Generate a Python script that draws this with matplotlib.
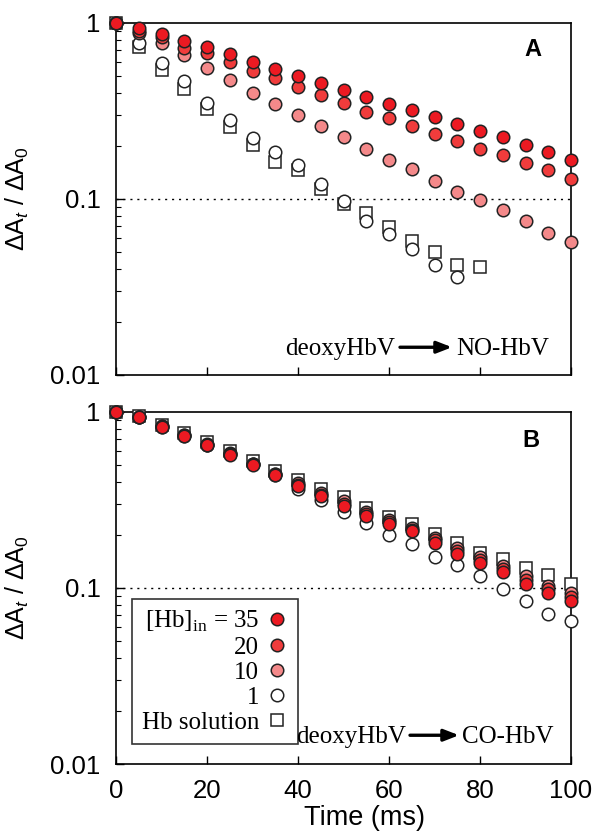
import numpy as np
import matplotlib
matplotlib.use("Agg")
import matplotlib.pyplot as plt
from matplotlib.ticker import LogLocator, NullFormatter

plt.rcParams['font.family'] = ['Liberation Sans', 'DejaVu Sans']
plt.rcParams['mathtext.fontset'] = 'custom'
plt.rcParams['mathtext.rm'] = 'Liberation Sans'
plt.rcParams['mathtext.it'] = 'Liberation Sans:italic'

# ---------------------------
# Daten
# ---------------------------
t_ms = np.arange(0, 101, 5)
t_1A = t_ms[:16]      # 0..75
t_solA = t_ms[:17]    # 0..80

# Panel A: deoxyHbV -> NO-HbV
a35 = [1, 0.93, 0.863, 0.79, 0.725, 0.66, 0.596, 0.547, 0.499, 0.454, 0.416,
       0.378, 0.345, 0.318, 0.29, 0.266, 0.242, 0.224, 0.201, 0.184, 0.166]
a20 = [1, 0.90, 0.833, 0.72, 0.67, 0.60, 0.535, 0.484, 0.43, 0.388, 0.35,
       0.313, 0.286, 0.26, 0.234, 0.212, 0.192, 0.177, 0.16, 0.145, 0.13]
a10 = [1, 0.87, 0.764, 0.652, 0.556, 0.473, 0.40, 0.347, 0.30, 0.258, 0.224,
       0.192, 0.167, 0.147, 0.127, 0.110, 0.098, 0.087, 0.075, 0.064, 0.057]
a1 = [1, 0.77, 0.59, 0.464, 0.352, 0.281, 0.221, 0.184, 0.155, 0.122, 0.097,
      0.075, 0.063, 0.052, 0.042, 0.036]
a_sol = [1, 0.728, 0.542, 0.422, 0.325, 0.256, 0.201, 0.162, 0.145, 0.114,
         0.094, 0.083, 0.069, 0.058, 0.050, 0.042, 0.041]

# Panel B: deoxyHbV -> CO-HbV
b35 = [1, 0.93, 0.82, 0.73, 0.645, 0.57, 0.50, 0.44, 0.377, 0.331, 0.29,
       0.255, 0.229, 0.21, 0.179, 0.155, 0.138, 0.123, 0.105, 0.094, 0.0845]
b20 = [1, 0.93, 0.822, 0.732, 0.647, 0.572, 0.502, 0.442, 0.385, 0.338, 0.30,
       0.262, 0.236, 0.214, 0.186, 0.162, 0.143, 0.128, 0.111, 0.098, 0.089]
b10 = [1, 0.93, 0.825, 0.735, 0.65, 0.575, 0.505, 0.445, 0.392, 0.346, 0.31,
       0.269, 0.244, 0.219, 0.193, 0.169, 0.149, 0.133, 0.117, 0.103, 0.094]
b1 = [1, 0.935, 0.83, 0.74, 0.655, 0.58, 0.505, 0.435, 0.365, 0.317, 0.269,
      0.232, 0.20, 0.177, 0.149, 0.134, 0.116, 0.099, 0.0845, 0.071, 0.065]
b_sol = [1, 0.94, 0.84, 0.755, 0.67, 0.595, 0.525, 0.46, 0.411, 0.365, 0.328,
         0.285, 0.253, 0.229, 0.201, 0.18, 0.157, 0.145, 0.13, 0.118, 0.105]

labels = [r"[Hb]$_{\mathregular{in}}$ = 35", "20", "10", "1", "Hb solution"]
col35 = "#ec1a22"
col20 = "#f03c3c"
col10 = "#f4898a"

W, H = 593, 834
fig = plt.figure(figsize=(W / 100, H / 100), dpi=100)

def px_axes(left, top, right, bottom):
    return fig.add_axes([left / W, 1 - bottom / H, (right - left) / W, (bottom - top) / H])

axA = px_axes(116, 22.7, 571, 375)
axB = px_axes(116, 411.7, 571, 764)

serif = {'family': ['Liberation Serif', 'DejaVu Serif'], 'size': 18}

def draw_panel(ax, s35, s20, s10, t1, s1, tsol, ssol):
    ms = 9
    h_sol, = ax.plot(tsol, ssol, 's', ms=8.4, mfc='white', mec='#222222', mew=1.1, clip_on=False, zorder=3)
    h1, = ax.plot(t1, s1, 'o', ms=ms, mfc='white', mec='#222222', mew=1.1, clip_on=False, zorder=4)
    h10, = ax.plot(t_ms, s10, 'o', ms=ms, mfc=col10, mec='#222222', mew=1.1, clip_on=False, zorder=5)
    h20, = ax.plot(t_ms, s20, 'o', ms=ms, mfc=col20, mec='#222222', mew=1.1, clip_on=False, zorder=6)
    h35, = ax.plot(t_ms, s35, 'o', ms=ms, mfc=col35, mec='#222222', mew=1.1, clip_on=False, zorder=7)
    ax.axhline(0.1, color='black', lw=1.0, ls=(0, (1.5, 3.5)), zorder=1)
    ax.set_yscale('log')
    ax.set_xlim(0, 100)
    ax.set_ylim(0.01, 1)
    ax.set_yticks([0.01, 0.1, 1])
    ax.set_yticklabels(["0.01", "0.1", "1"])
    ax.yaxis.set_minor_locator(LogLocator(base=10, subs=np.arange(2, 10)))
    ax.yaxis.set_minor_formatter(NullFormatter())
    ax.set_xticks([0, 20, 40, 60, 80, 100])
    ax.tick_params(axis='both', which='major', direction='in', length=6, width=1,
                   labelsize=18.5, pad=11)
    ax.tick_params(axis='y', which='minor', direction='in', length=3.5, width=0.8)
    for sp in ax.spines.values():
        sp.set_linewidth(1.2)
    ax.set_ylabel(r"$\Delta$A$_{\mathit{t}}$ / $\Delta$A$_{\mathit{0}}$", fontsize=18, labelpad=14)
    return [h35, h20, h10, h1, h_sol]

draw_panel(axA, a35, a20, a10, t_1A, a1, t_solA, a_sol)
handles = draw_panel(axB, b35, b20, b10, t_ms, b1, t_ms, b_sol)
axA.tick_params(axis='x', labelbottom=False)

# Panel-Buchstaben
axA.text(0.917, 0.923, "A", transform=axA.transAxes, fontsize=17, fontweight='bold',
         ha='center', va='center')
axB.text(0.912, 0.917, "B", transform=axB.transAxes, fontsize=17, fontweight='bold',
         ha='center', va='center')

# Reaktions-Beschriftung mit Pfeil
def reaction(ax, left_txt, right_txt, x_left_end, x_arrow0, x_arrow1, x_right0, y):
    ax.text(x_left_end, y, left_txt, transform=ax.transAxes, ha='right', va='baseline', fontdict=serif)
    ax.text(x_right0, y, right_txt, transform=ax.transAxes, ha='left', va='baseline', fontdict=serif)
    ax.annotate("", xy=(x_arrow1, y + 0.022), xytext=(x_arrow0, y + 0.022),
                xycoords='axes fraction',
                arrowprops=dict(arrowstyle='-|>,head_length=0.9,head_width=0.35',
                                color='black', lw=2.4, shrinkA=0, shrinkB=0))

reaction(axA, "deoxyHbV", "NO-HbV", (395 - 116) / 455, (400 - 116) / 455,
         (452 - 116) / 455, (456 - 116) / 455, (375 - 355) / 352.3)
reaction(axB, "deoxyHbV", "CO-HbV", (406 - 116) / 455, (410 - 116) / 455,
         (459 - 116) / 455, (462 - 116) / 455, (764 - 743) / 352.3)

leg = axB.legend(handles, labels, loc='lower left', bbox_to_anchor=((131.7 - 116) / 455, (764 - 744) / 352.3),
                 markerfirst=False, frameon=True, fancybox=False, edgecolor='black',
                 prop={'family': ['Liberation Serif', 'DejaVu Serif'], 'size': 18},
                 handlelength=0.9, handletextpad=0.25, labelspacing=0.1,
                 borderpad=0.4, borderaxespad=0)
leg.get_frame().set_linewidth(1.2)
for t in leg.get_texts():
    t.set_ha('right')
leg._legend_box.align = "right"

fig.text(364 / W, 1 - 818 / H, "Time (ms)", ha='center', va='center', fontsize=19.5)

fig.savefig("out.png", dpi=100)
